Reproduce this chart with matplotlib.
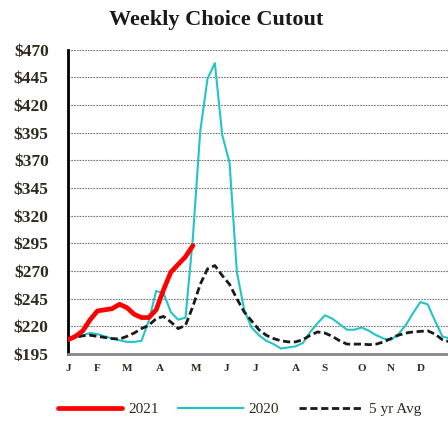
import numpy as np
import matplotlib
matplotlib.use("Agg")
import matplotlib.pyplot as plt

# weekly choice cutout, $/cwt
weeks = np.arange(53)
y2021 = [208, 211, 216, 226, 234, 235, 236, 240, 237, 231, 228, 228, 235,
         253, 269, 276, 283, 293]
y2020 = [208, 210, 212, 214, 213, 211, 209, 207.5, 206, 206, 207, 225, 252,
         250, 233, 226, 228, 300, 396, 444, 458, 393, 368, 269, 235, 219,
         212, 207, 204, 200, 201, 202, 205, 215, 223, 230, 227, 222, 217,
         217, 219, 216, 212, 209, 208, 213, 221, 232, 242, 240, 225, 211, 209]
avg5 = [208, 210, 211.5, 212, 211, 210, 209, 208.5, 211, 214, 218, 221, 227,
        229, 224, 218, 221, 238, 258, 272, 275, 266, 258, 245, 233, 225,
        217, 212, 209, 207, 206, 206, 208, 212, 215, 214, 211, 207, 204,
        204, 204, 203.5, 204, 206, 209, 212, 214, 215, 215.5, 216, 213, 208, 206]
months = ["J", "F", "M", "A", "M", "J", "J", "A", "S", "O", "N", "D"]
month_weeks = [0, 4, 8, 12.5, 17.5, 21.5, 25.5, 31, 35, 40, 44, 48]
yticks = np.arange(195, 471, 25)

plt.rcParams["font.family"] = ["Liberation Serif", "DejaVu Serif"]
txt = "#2e2a1e"

fig = plt.figure(figsize=(4.48, 4.22), dpi=100)
ax = fig.add_axes([0.152, 0.161, 0.86, 0.721])

ax.plot(np.arange(len(y2021)), y2021, color="red", lw=3.4,
        solid_capstyle="round", label="2021", zorder=4)
ax.plot(weeks, y2020, color="#22c4c8", lw=1.5, label="2020", zorder=3)
ax.plot(weeks, avg5, color="#1a1a1a", lw=2, dashes=(2.6, 1.3),
        label="5 yr Avg", zorder=3)

ax.set_ylim(195, 470)
ax.set_xlim(0, 52.5)
ax.set_yticks(yticks)
ax.set_yticklabels(["$%d" % v for v in yticks], fontsize=12.5,
                   fontweight="bold", color=txt)
ax.set_xticks(month_weeks)
ax.set_xticklabels(months, fontsize=8, fontweight="bold", color=txt)
ax.tick_params(axis="both", length=0)
ax.tick_params(axis="y", pad=14)
ax.tick_params(axis="x", pad=7)

ax.grid(True, axis="y", color="#777777", linestyle=(0, (1.5, 1)), lw=0.8)
ax.spines["left"].set_linewidth(2)
ax.spines["left"].set_color("black")
ax.spines["bottom"].set_linewidth(2)
ax.spines["bottom"].set_color("#888888")
ax.spines["top"].set_visible(False)
ax.spines["right"].set_visible(False)

fig.text(0.482, 0.952, "Weekly Choice Cutout", ha="center", va="center",
         fontsize=16, fontweight="bold", color="#1a1a1a")

fig.legend(loc="center", bbox_to_anchor=(0.535, 0.03), ncol=3, frameon=False,
           fontsize=11, handlelength=4.2, columnspacing=1.3, handletextpad=0.4)
for t in fig.legends[0].get_texts():
    t.set_color(txt)

fig.savefig("out.png", dpi=100)
